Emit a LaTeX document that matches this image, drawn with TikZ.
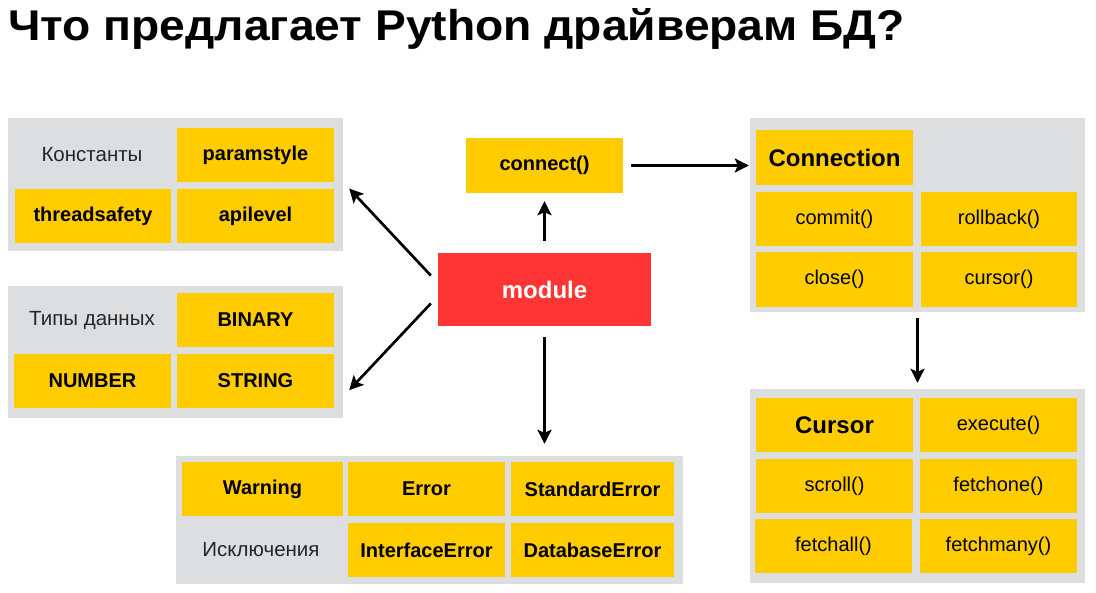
\documentclass[tikz,border=0pt]{standalone}
\usepackage{fontspec}
\setmainfont{Liberation Sans}
\usetikzlibrary{arrows.meta}
\definecolor{yel}{HTML}{FFCC00}
\definecolor{grayb}{HTML}{DDDEDF}
\definecolor{redm}{HTML}{FF3535}
\newcommand\bxnode[7]{\node[#6, minimum width={#4-#2}, minimum height={#5-#3}] (#1) at ({(#2+#4)/2},{(#3+#5)/2}) {#7};}
\tikzset{
  panel/.style={fill=grayb, inner sep=0pt, draw=none},
  cellb/.style={fill=yel, inner sep=0pt, font=\fontsize{20}{24}\selectfont\bfseries},
  cellr/.style={fill=yel, inner sep=0pt, font=\fontsize{20}{24}\selectfont},
  cellh/.style={fill=yel, inner sep=0pt, font=\fontsize{24}{28}\selectfont\bfseries},
  lbl/.style={inner sep=0pt, font=\fontsize{20.5}{24}\selectfont, text=black!85},
  modst/.style={fill=redm, inner sep=0pt, text=white, font=\fontsize{24}{28}\selectfont\bfseries},
  arr/.style={line width=2.7pt, -{Stealth[length=14pt,width=14pt,inset=3pt]}},
}
\begin{document}
\begin{tikzpicture}[x=1pt,y=-1pt]
\useasboundingbox (0,0) rectangle (1096,593);
\node[anchor=base west, inner sep=0pt, font=\fontsize{43}{48}\selectfont\bfseries] (title) at (8,41) {\scalebox{1.074}[1]{Что предлагает Python драйверам БД?}};
% constants
\bxnode{consbox}{8}{118}{343}{251}{panel}{}
\bxnode{paramstyle}{177}{128}{334}{182}{cellb}{paramstyle}
\bxnode{threadsafety}{15}{189}{171}{243}{cellb}{threadsafety}
\bxnode{apilevel}{177}{189}{334}{243}{cellb}{apilevel}
\node[lbl] (conslbl) at (92,155) {Константы};
% types
\bxnode{typesbox}{8}{286}{343}{418}{panel}{}
\bxnode{binary}{177}{293}{334}{347}{cellb}{BINARY}
\bxnode{number}{14}{354}{171}{408}{cellb}{NUMBER}
\bxnode{string}{177}{354}{334}{408}{cellb}{STRING}
\node[lbl] (typeslbl) at (92,320) {Типы данных};
% connect and module
\bxnode{connect}{466}{138}{623}{193}{cellb}{connect()}
\bxnode{module}{438}{253}{651}{326}{modst}{module}
% exceptions
\bxnode{excbox}{176}{456}{683}{584}{panel}{}
\bxnode{warning}{182}{462}{343}{516}{cellb}{Warning}
\bxnode{error}{348}{462}{505}{516}{cellb}{Error}
\bxnode{stderror}{511}{462}{674}{516}{cellb}{StandardError}
\bxnode{ifaceerror}{348}{523}{505}{577}{cellb}{InterfaceError}
\bxnode{dberror}{511}{523}{674}{577}{cellb}{DatabaseError}
\node[lbl] (exclbl) at (261,550) {Исключения};
% connection
\bxnode{connbox}{750}{118}{1085}{312}{panel}{}
\bxnode{connection}{756}{130}{913}{185}{cellh}{Connection}
\bxnode{commit}{756}{192}{913}{246}{cellr}{commit()}
\bxnode{rollback}{921}{192}{1077}{246}{cellr}{rollback()}
\bxnode{close}{756}{252}{913}{307}{cellr}{close()}
\bxnode{cursorm}{921}{252}{1077}{307}{cellr}{cursor()}
% cursor
\bxnode{curbox}{750}{389}{1085}{583}{panel}{}
\bxnode{cursor}{756}{398}{913}{452}{cellh}{Cursor}
\bxnode{execute}{920}{398}{1077}{452}{cellr}{execute()}
\bxnode{scroll}{756}{459}{913}{513}{cellr}{scroll()}
\bxnode{fetchone}{920}{459}{1077}{513}{cellr}{fetchone()}
\bxnode{fetchall}{755}{519}{912}{573}{cellr}{fetchall()}
\bxnode{fetchmany}{920}{519}{1077}{573}{cellr}{fetchmany()}
% arrows
\draw[arr, shorten <=12pt, shorten >=8pt] (module.north) -- (module.north |- connect.south);
\draw[arr, shorten <=8pt, shorten >=1pt] (connect.east) -- (connect.east -| connbox.west);
\draw[arr] ([shift={(-7,-14)}]module.west) -- ([shift={(6,4)}]consbox.east);
\draw[arr] ([shift={(-7,14)}]module.west) -- ([shift={(6,-28)}]typesbox.south east);
\draw[arr, shorten <=11pt, shorten >=12pt] (module.south) -- (module.south |- excbox.north);
\draw[arr, shorten <=6pt, shorten >=6pt] (connbox.south) -- (connbox.south |- curbox.north);
\end{tikzpicture}
\end{document}
